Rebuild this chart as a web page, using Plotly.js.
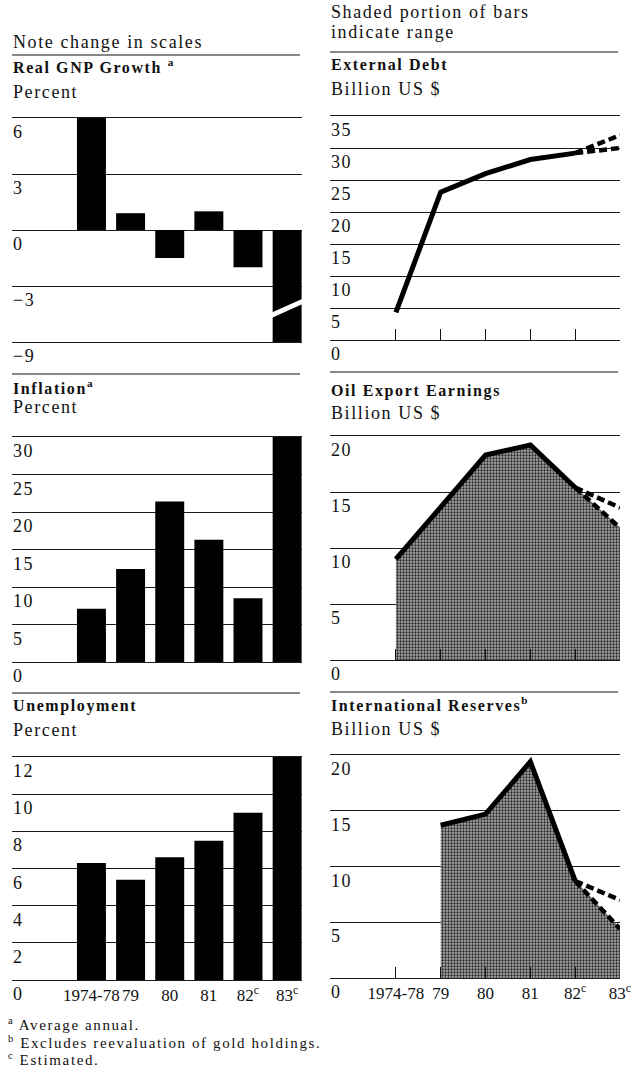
<!DOCTYPE html>
<html><head><meta charset="utf-8">
<script src="https://cdn.plot.ly/plotly-3.0.1.min.js"></script>
<style>
html,body{margin:0;padding:0;background:#fff;}
#chart{width:634px;height:1078px;}
.annotation-text{letter-spacing:1.6px;}
</style></head><body><div id="chart"></div>
<script>
// ---------- data ----------
const categories = ['1974-78', '79', '80', '81', '82<sup>c</sup>', '83<sup>c</sup>'];

const gnpGrowth = [6.0, 0.9, -1.5, 1.0, -2.0, -9.0];
const inflation = [7.1, 12.4, 21.4, 16.3, 8.5, 30.0];
const unemployment = [6.3, 5.4, 6.6, 7.5, 9.0, 12.0];

const externalDebt = [4.3, 23.1, 26.0, 28.2, 29.2];      // 1974-78 .. 82
const externalDebt83Range = [30.0, 32.0];               // low, high (estimated)
const oilEarnings = [9.0, 13.6, 18.3, 19.2, 15.4];
const oilEarnings83Range = [11.8, 13.6];
const reservesIntl = [null, 13.7, 14.7, 19.4, 8.7];
const reservesIntl83Range = [4.4, 7.0];

const gnpTicks = [6, 3, 0, -3, -9];
const gnpTickText = ['6', '3', '0', '\u22123', '\u22129'];
const inflationTicks = [0, 5, 10, 15, 20, 25, 30];
const unemploymentTicks = [0, 2, 4, 6, 8, 10, 12];
const debtTicks = [0, 5, 10, 15, 20, 25, 30, 35];
const oilTicks = [0, 5, 10, 15, 20];
const reservesTicks = [0, 5, 10, 15, 20];

// ---------- helpers ----------
const W = 634, H = 1078;
const px = v => v / W;
const py = v => 1 - v / H;
const FONT = 'Liberation Serif, Times New Roman, serif';
const INK = '#111';
const GRID = '#1c1c1c';

// broken GNP scale: below -3 the axis is compressed by 2
const gnpScale = v => (v < -3 ? -3 + (v + 3) / 2 : v);
const idx = categories.map((_, i) => i);

// panel geometry (pixels)
const L = {x0: 12, x1: 302, range: [-2.03, 5.38]};
const R = {x0: 330, x1: 620, range: [-1.47, 5.0]};
const panels = [
  {col: L, top: 118, bot: 342, range: [-6, 6], ticks: gnpTicks.map(gnpScale), text: gnpTickText, bottom: false},
  {col: L, top: 437, bot: 662, range: [0, 30], ticks: inflationTicks, text: inflationTicks.map(String), bottom: false},
  {col: L, top: 757, bot: 980, range: [0, 12], ticks: unemploymentTicks, text: unemploymentTicks.map(String), bottom: true},
  {col: R, top: 116, bot: 340, range: [0, 35], ticks: debtTicks, text: debtTicks.map(String), bottom: false},
  {col: R, top: 436, bot: 660, range: [0, 20], ticks: oilTicks, text: oilTicks.map(String), bottom: false},
  {col: R, top: 755, bot: 978, range: [0, 20], ticks: reservesTicks, text: reservesTicks.map(String), bottom: true}
];

const layout = {
  width: W, height: H,
  margin: {l: 0, r: 0, t: 0, b: 0},
  paper_bgcolor: '#fff', plot_bgcolor: 'rgba(0,0,0,0)',
  showlegend: false,
  font: {family: FONT, color: INK, size: 17},
  annotations: [], shapes: []
};

panels.forEach((p, i) => {
  const n = i + 1;
  const xa = 'xaxis' + (n === 1 ? '' : n);
  const ya = 'yaxis' + (n === 1 ? '' : n);
  const right = p.col === R;
  layout[xa] = {
    domain: [px(p.col.x0), px(p.col.x1)], range: p.col.range,
    anchor: 'y' + (n === 1 ? '' : n),
    showgrid: false, zeroline: false,
    showline: true, mirror: true, linecolor: GRID, linewidth: 1,
    tickmode: 'array', tickvals: idx, ticktext: categories,
    showticklabels: p.bottom,
    ticks: right ? 'inside' : '', ticklen: 11, tickwidth: 1.2, tickcolor: INK,
    tickfont: {family: FONT, size: 17, color: INK},
    fixedrange: true
  };
  layout[ya] = {
    domain: [py(p.bot), py(p.top)], range: p.range,
    anchor: 'x' + (n === 1 ? '' : n),
    tickmode: 'array', tickvals: p.ticks, showticklabels: false,
    showgrid: true, gridcolor: GRID, gridwidth: 1,
    zeroline: false, ticks: '', fixedrange: true
  };
  // y tick labels sit just below each grid line, flush left
  p.ticks.forEach((t, k) => {
    layout.annotations.push({
      xref: 'paper', yref: 'y' + (n === 1 ? '' : n),
      x: px(p.col.x0 - 1), y: t, yshift: -14,
      xanchor: 'left', yanchor: 'middle', showarrow: false,
      text: p.text[k], font: {family: FONT, size: 18, color: INK}
    });
  });
});

// ---------- traces ----------
const bar = (y, n) => ({
  type: 'bar', x: idx, y: y, width: 0.74,
  marker: {color: '#000', line: {width: 0}},
  xaxis: 'x' + n, yaxis: 'y' + n, hoverinfo: 'skip'
});
const solid = (y, n) => ({
  type: 'scatter', mode: 'lines', x: idx.slice(0, y.length), y: y,
  line: {color: '#000', width: 5}, xaxis: 'x' + n, yaxis: 'y' + n, hoverinfo: 'skip'
});
const dashed = (y0, y1, n) => ({
  type: 'scatter', mode: 'lines', x: [idx[4], idx[5]], y: [y0, y1],
  line: {color: '#000', width: 4.5, dash: '8px,4px'}, xaxis: 'x' + n, yaxis: 'y' + n, hoverinfo: 'skip'
});
const area = (y, low, n) => ({
  type: 'scatter', mode: 'lines', x: idx, y: y.concat([low]),
  fill: 'tozeroy', fillcolor: '#8a8a8a',
  fillpattern: {shape: '.', fgcolor: '#262626', bgcolor: '#aaaaaa', size: 3, solidity: 0.45},
  line: {color: '#444', width: 0.8},
  xaxis: 'x' + n, yaxis: 'y' + n, hoverinfo: 'skip'
});

const data = [
  bar(gnpGrowth.map(gnpScale), ''),
  bar(inflation, '2'),
  bar(unemployment, '3'),
  solid(externalDebt, '4'),
  dashed(externalDebt[4], externalDebt83Range[1], '4'),
  dashed(externalDebt[4], externalDebt83Range[0], '4'),
  area(oilEarnings, oilEarnings83Range[0], '5'),
  solid(oilEarnings, '5'),
  dashed(oilEarnings[4], oilEarnings83Range[1], '5'),
  dashed(oilEarnings[4], oilEarnings83Range[0], '5'),
  area(reservesIntl, reservesIntl83Range[0], '6'),
  solid(reservesIntl, '6'),
  dashed(reservesIntl[4], reservesIntl83Range[1], '6'),
  dashed(reservesIntl[4], reservesIntl83Range[0], '6')
];

// scale-break notch across the last GNP bar
const breakLow = -6.16, breakHigh = -4.6;
layout.shapes.push({
  type: 'line', xref: 'x', yref: 'y',
  x0: idx[5] - 0.41, x1: idx[5] + 0.42,
  y0: gnpScale(breakLow), y1: gnpScale(breakHigh),
  line: {color: '#fff', width: 5}, layer: 'above'
});

// section rules
[[L, 55], [L, 374], [L, 693], [R, 52], [R, 372], [R, 692]].forEach(([c, y]) => {
  layout.shapes.push({type: 'line', xref: 'paper', yref: 'paper',
    x0: px(c.x0), x1: px(c.x1 - 2), y0: py(y), y1: py(y), line: {color: INK, width: 1.2}});
});

// titles
const txt = (x, y, text, size, weight) => ({
  xref: 'paper', yref: 'paper', x: px(x), y: py(y), xanchor: 'left', yanchor: 'middle',
  showarrow: false, text: text, font: {family: FONT, size: size, color: INK, weight: weight || 'normal'}
});
layout.annotations.push(
  txt(11, 42, 'Note change in scales', 18),
  txt(11, 66, 'Real GNP Growth <sup>a</sup>', 16, 'bold'),
  txt(11, 92, 'Percent', 18),
  txt(11, 387, 'Inflation<sup>a</sup>', 16, 'bold'),
  txt(11, 407, 'Percent', 18),
  txt(11, 706, 'Unemployment', 16, 'bold'),
  txt(11, 730, 'Percent', 18),
  txt(329, 12, 'Shaded portion of bars', 18),
  txt(329, 32, 'indicate range', 18),
  txt(329, 64, 'External Debt', 16, 'bold'),
  txt(329, 89, 'Billion US $', 18),
  txt(329, 391, 'Oil Export Earnings', 16, 'bold'),
  txt(329, 413, 'Billion US $', 18),
  txt(329, 704, 'International Reserves<sup>b</sup>', 16, 'bold'),
  txt(329, 729, 'Billion US $', 18),
  txt(6, 1024, '<sup>a</sup> Average annual.', 15),
  txt(6, 1042, '<sup>b</sup> Excludes reevaluation of gold holdings.', 15),
  txt(6, 1059, '<sup>c</sup> Estimated.', 15)
);

Plotly.newPlot('chart', data, layout, {staticPlot: true, displayModeBar: false});
</script></body></html>
